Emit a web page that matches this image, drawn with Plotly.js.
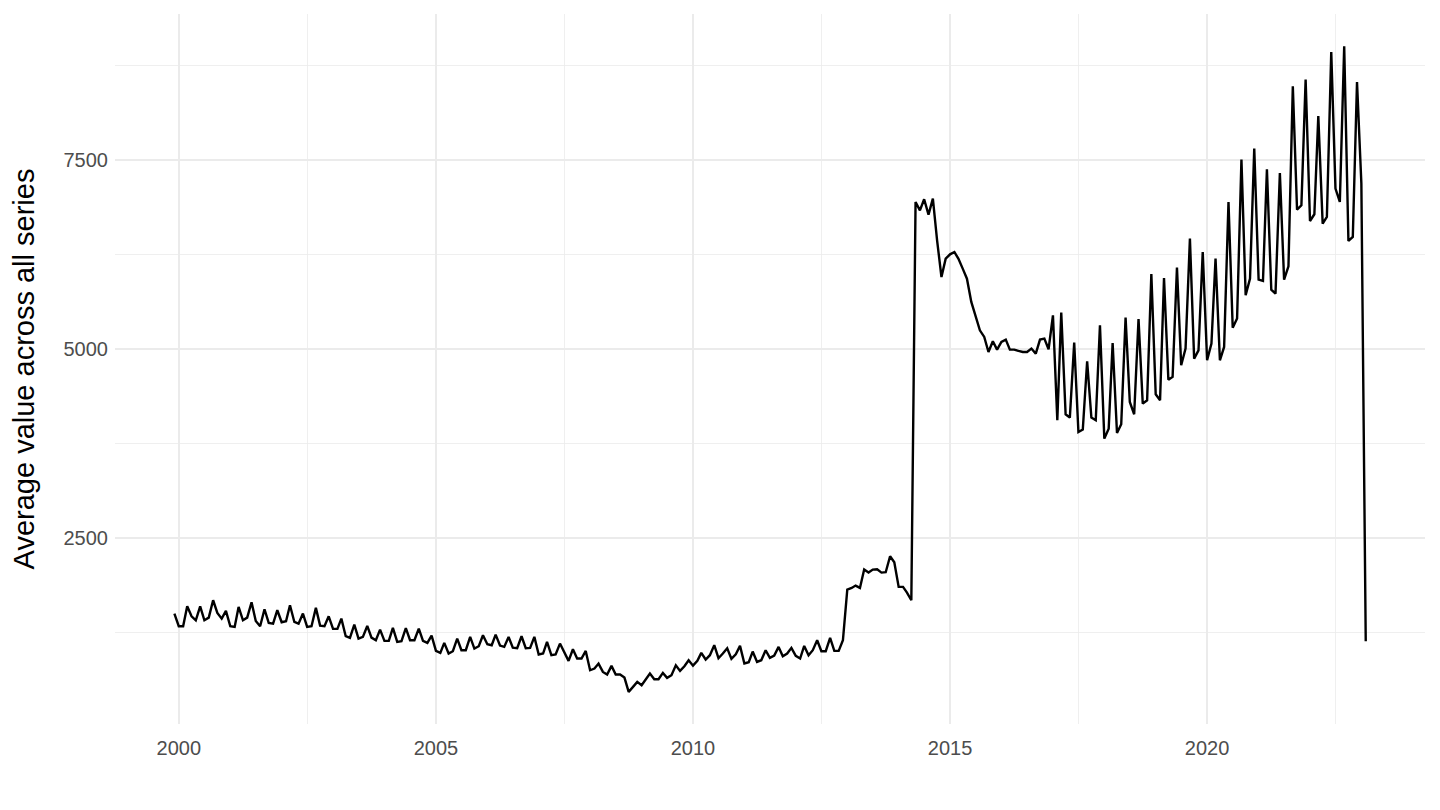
<!DOCTYPE html>
<html>
<head>
<meta charset="utf-8">
<script src="https://cdn.plot.ly/plotly-3.0.1.min.js"></script>
<style>
  html, body { margin: 0; padding: 0; background: #ffffff; }
  #chart { width: 1440px; height: 810px; }
</style>
</head>
<body>
<div id="chart"></div>
<script>
// Monthly series, first month = December 1999
const firstYear = 1999;
const firstMonth = 12;

const avgValue = [
  1504,
  // 2000
  1336, 1336, 1600, 1468, 1415, 1600, 1415, 1450, 1680, 1512, 1437, 1539,
  // 2001
  1336, 1327, 1592, 1415, 1450, 1653, 1406, 1336, 1561, 1380, 1371, 1548,
  // 2002
  1389, 1402, 1614, 1393, 1371, 1504, 1327, 1336, 1579, 1345, 1336, 1468,
  // 2003
  1301, 1301, 1437, 1204, 1182, 1358, 1173, 1195, 1340, 1186, 1151, 1292,
  // 2004
  1142, 1142, 1314, 1129, 1138, 1310, 1151, 1151, 1305, 1142, 1116, 1213,
  // 2005
  1010, 984, 1116, 975, 1006, 1173, 1019, 1019, 1195, 1041, 1072, 1217,
  // 2006
  1098, 1085, 1226, 1081, 1063, 1195, 1054, 1045, 1204, 1045, 1050, 1195,
  // 2007
  962, 975, 1129, 953, 962, 1107, 984, 878, 1032, 909, 909, 1010,
  // 2008
  754, 776, 842, 732, 697, 812, 697, 697, 657, 468, 534, 600,
  // 2009
  556, 635, 710, 635, 635, 719, 653, 688, 820, 745, 807, 887,
  // 2010
  815, 880, 984, 896, 953, 1085, 913, 975, 1045, 905, 966, 1076,
  // 2011
  843, 860, 1001, 865, 887, 1019, 918, 948, 1063, 940, 975, 1050,
  // 2012
  944, 909, 1076, 953, 1019, 1151, 1006, 1006, 1182, 1010, 1010, 1151,
  // 2013
  1821, 1843, 1874, 1843, 2086, 2046, 2086, 2090, 2046, 2051, 2262, 2183,
  // 2014
  1857, 1857, 1782, 1680, 6948, 6838, 6984, 6781, 6993, 6441, 5956, 6199,
  // 2015
  6256, 6287, 6199, 6067, 5934, 5626, 5427, 5251, 5163, 4964, 5106, 4995,
  // 2016
  5097, 5128, 4995, 4995, 4978, 4964, 4964, 5009, 4942, 5128, 5141, 5000,
  // 2017
  5449, 4061, 5485, 4140, 4096, 5088, 3906, 3937, 4841, 4096, 4061, 5317,
  // 2018
  3818, 3950, 5083, 3893, 4008, 5419, 4303, 4140, 5401, 4281, 4325, 5995,
  // 2019
  4404, 4325, 5943, 4598, 4634, 6080, 4788, 5009, 6464, 4876, 4986, 6287,
  // 2020
  4854, 5075, 6199, 4854, 5031, 6949, 5285, 5406, 7509, 5714, 5935, 7654,
  // 2021
  5921, 5904, 7381, 5789, 5736, 7332, 5921, 6098, 8479, 6847, 6905, 8567,
  // 2022
  6697, 6786, 8086, 6662, 6750, 8933, 7125, 6949, 9008, 6433, 6486, 8536,
  // 2023
  7191, 1138
];

const xTickVals = ['2000-01-01', '2005-01-01', '2010-01-01', '2015-01-01', '2020-01-01'];
const xTickText = ['2000', '2005', '2010', '2015', '2020'];
const yTickVals = [2500, 5000, 7500];
const yTickText = ['2500', '5000', '7500'];
const yTitle = 'Average value across all series';

// month labels for each value
const months = avgValue.map((_, i) => {
  const total = (firstMonth - 1) + i;
  const y = firstYear + Math.floor(total / 12);
  const m = (total % 12) + 1;
  return y + '-' + String(m).padStart(2, '0') + '-01';
});

const trace = {
  type: 'scatter',
  mode: 'lines',
  x: months,
  y: avgValue,
  line: { color: '#000000', width: 2.4 },
  hoverinfo: 'x+y'
};

const gridColor = '#EBEBEB';

const layout = {
  width: 1440,
  height: 810,
  margin: { l: 115, r: 15, t: 14, b: 86, pad: 0 },
  paper_bgcolor: '#ffffff',
  plot_bgcolor: '#ffffff',
  showlegend: false,
  font: { family: 'Liberation Sans, Arial, Helvetica, sans-serif', color: '#4D4D4D' },
  xaxis: {
    type: 'date',
    range: ['1998-10-05', '2024-03-28'],
    tickmode: 'array',
    tickvals: xTickVals,
    ticktext: xTickText,
    showgrid: true,
    gridcolor: gridColor,
    gridwidth: 1.6,
    zeroline: false,
    showline: false,
    ticks: '',
    ticklabelstandoff: 10,
    tickfont: { size: 20, color: '#4D4D4D' },
    minor: {
      tickmode: 'linear',
      tick0: '2000-01-01',
      dtick: 'M30',
      showgrid: true,
      gridcolor: gridColor,
      gridwidth: 0.8
    },
    automargin: false
  },
  yaxis: {
    range: [43, 9435],
    tickmode: 'array',
    tickvals: yTickVals,
    ticktext: yTickText,
    showgrid: true,
    gridcolor: gridColor,
    gridwidth: 1.6,
    zeroline: false,
    showline: false,
    ticks: '',
    ticklabelstandoff: 6,
    tickfont: { size: 20, color: '#4D4D4D' },
    minor: {
      tickmode: 'linear',
      tick0: 0,
      dtick: 1250,
      showgrid: true,
      gridcolor: gridColor,
      gridwidth: 0.8
    },
    title: {
      text: yTitle,
      font: { size: 29, color: '#000000' },
      standoff: 20
    },
    automargin: false
  }
};

Plotly.newPlot('chart', [trace], layout, { displayModeBar: false, staticPlot: true });
</script>
</body>
</html>
